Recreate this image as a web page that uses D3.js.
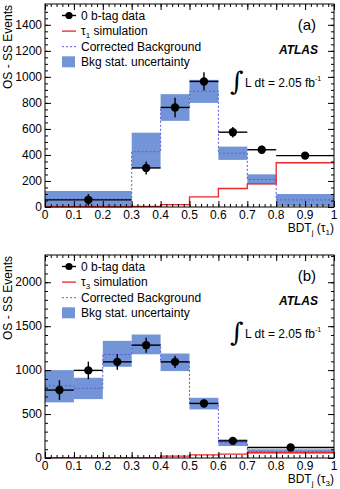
<!DOCTYPE html>
<html>
<head>
<meta charset="utf-8">
<script src="https://cdn.jsdelivr.net/npm/d3@7"></script>
<style>
  body { margin: 0; background: #fff; }
  svg { display: block; font-family: "Liberation Sans", Arial, sans-serif; }
</style>
</head>
<body>
<div class="viz"></div>
<script>
// panel (a): tau1
const edgesA = [0, 0.3, 0.4, 0.5, 0.6, 0.7, 0.8, 1.0];
const dataA = [55, 300, 765, 965, 575, 440, 395];
const dataErrA = [45, 50, 75, 70, 40, 30, 25];
const bkgA = [60, 425, 765, 890, 413, 212, 55];
const bkgLoA = [0, 300, 662, 800, 362, 174, 8];
const bkgHiA = [123, 571, 867, 977, 464, 251, 100];
const sigA = [2, 5, 18, 78, 142, 177, 340];

// panel (b): tau3
const edgesB = [0, 0.1, 0.2, 0.3, 0.4, 0.5, 0.6, 0.7, 1.0];
const dataB = [773, 997, 1094, 1284, 1094, 621, 195, 120];
const dataErrB = [112, 100, 90, 85, 70, 42, 22, 18];
const bkgB = [822, 792, 1178, 1290, 1090, 620, 175, 72];
const bkgLoB = [633, 670, 1038, 1180, 989, 553, 136, 53];
const bkgHiB = [1000, 913, 1333, 1405, 1189, 685, 212, 99];
const sigB = [4, 4, 4, 5, 22, 35, 45, 60];

const xTicks = [0, 0.1, 0.2, 0.3, 0.4, 0.5, 0.6, 0.7, 0.8, 0.9, 1];

const W = 340, H = 489;
const svg = d3.select('.viz').append('svg').attr('width', W).attr('height', H);

function panel(o) {
    const g = svg.append('g');
    const x = d3.scaleLinear().domain([0, 1]).range([45, 334]);
    const y = d3.scaleLinear().domain([0, o.ymax]).range([o.bottom, o.top]);
    const n = o.data.length;
    const bins = d3.range(n).map(i => ({
        x0: o.edges[i], x1: o.edges[i + 1], v: o.data[i], e: o.err[i],
        b: o.bkg[i], lo: o.lo[i], hi: o.hi[i], s: o.sig[i]
    }));

    // background uncertainty band
    g.selectAll('rect.band').data(bins).enter().append('rect')
        .attr('x', d => x(d.x0)).attr('width', d => x(d.x1) - x(d.x0))
        .attr('y', d => y(d.hi)).attr('height', d => y(d.lo) - y(d.hi))
        .attr('fill', '#7394d6');

    // step line helper
    const step = (key) => {
        const pts = [];
        bins.forEach(d => { pts.push([x(d.x0), y(d[key])]); pts.push([x(d.x1), y(d[key])]); });
        return d3.line()(pts);
    };
    g.append('path').attr('d', step('b')).attr('fill', 'none')
        .attr('stroke', '#5b5be0').attr('stroke-width', 1).attr('stroke-dasharray', '2,2');
    g.append('path').attr('d', step('s')).attr('fill', 'none')
        .attr('stroke', '#e8262b').attr('stroke-width', 1.3);

    // data
    g.selectAll('line.hx').data(bins).enter().append('line')
        .attr('x1', d => x(d.x0)).attr('x2', d => x(d.x1))
        .attr('y1', d => y(d.v)).attr('y2', d => y(d.v))
        .attr('stroke', '#000').attr('stroke-width', 1.4);
    g.selectAll('line.ey').data(bins).enter().append('line')
        .attr('x1', d => x((d.x0 + d.x1) / 2)).attr('x2', d => x((d.x0 + d.x1) / 2))
        .attr('y1', d => y(d.v - d.e)).attr('y2', d => y(d.v + d.e))
        .attr('stroke', '#000').attr('stroke-width', 1.4);
    g.selectAll('circle').data(bins).enter().append('circle')
        .attr('cx', d => x((d.x0 + d.x1) / 2)).attr('cy', d => y(d.v))
        .attr('r', 4.2).attr('fill', '#000');

    // frame
    g.append('rect').attr('x', 45).attr('y', o.top).attr('width', 289).attr('height', o.bottom - o.top)
        .attr('fill', 'none').attr('stroke', '#000').attr('stroke-width', 1);

    // axes with minor ticks
    const minorY = d3.range(0, o.ymax, o.ymin);
    const minorX = d3.range(0, 1.0001, 0.02);
    const addTicks = (axis) => axis.selectAll('.domain').remove();
    g.append('g').attr('transform', `translate(45,0)`)
        .call(d3.axisRight(y).tickValues(minorY).tickSize(3).tickFormat('')).call(addTicks);
    g.append('g').attr('transform', `translate(45,0)`)
        .call(d3.axisRight(y).tickValues(o.yTicks).tickSize(6).tickFormat('')).call(addTicks);
    g.append('g').attr('transform', `translate(334,0)`)
        .call(d3.axisLeft(y).tickValues(minorY).tickSize(3).tickFormat('')).call(addTicks);
    g.append('g').attr('transform', `translate(334,0)`)
        .call(d3.axisLeft(y).tickValues(o.yTicks).tickSize(6).tickFormat('')).call(addTicks);
    g.append('g').attr('transform', `translate(0,${o.bottom})`)
        .call(d3.axisTop(x).tickValues(minorX).tickSize(3).tickFormat('')).call(addTicks);
    g.append('g').attr('transform', `translate(0,${o.bottom})`)
        .call(d3.axisTop(x).tickValues(xTicks).tickSize(6).tickFormat('')).call(addTicks);
    g.append('g').attr('transform', `translate(0,${o.top})`)
        .call(d3.axisBottom(x).tickValues(minorX).tickSize(3).tickFormat('')).call(addTicks);
    g.append('g').attr('transform', `translate(0,${o.top})`)
        .call(d3.axisBottom(x).tickValues(xTicks).tickSize(6).tickFormat('')).call(addTicks);
    g.selectAll('.tick line').attr('stroke', '#000');

    // tick labels
    g.selectAll('text.yl').data(o.yTicks).enter().append('text')
        .attr('x', 42).attr('y', d => y(d) + 4).attr('text-anchor', 'end')
        .attr('font-size', 12).text(d => d);
    g.selectAll('text.xl').data(xTicks).enter().append('text')
        .attr('x', d => x(d)).attr('y', o.bottom + 12).attr('text-anchor', 'middle')
        .attr('font-size', 12).text(d => d);

    // axis titles
    g.append('text').attr('transform', `translate(12,${o.top + 1}) rotate(-90)`)
        .attr('text-anchor', 'end').attr('font-size', 12).text('OS - SS Events');
    const xt = g.append('text').attr('x', 334).attr('y', o.bottom + 25)
        .attr('text-anchor', 'end').attr('font-size', 12);
    xt.append('tspan').text('BDT');
    xt.append('tspan').attr('font-size', 8).attr('dy', 3).text('j');
    xt.append('tspan').attr('dy', -3).text(' (τ');
    xt.append('tspan').attr('font-size', 8).attr('dy', 3).text(o.tau);
    xt.append('tspan').attr('dy', -3).text(')');

    // legend
    const lx = 81, ly = o.top + 15.5, dy = 15.6;
    const lg = g.append('g');
    lg.append('line').attr('x1', 62).attr('x2', 76).attr('y1', ly - 4).attr('y2', ly - 4)
        .attr('stroke', '#000').attr('stroke-width', 1.4);
    lg.append('circle').attr('cx', 69).attr('cy', ly - 4).attr('r', 3.6).attr('fill', '#000');
    lg.append('text').attr('x', lx).attr('y', ly).attr('font-size', 12).text('0 b-tag data');
    lg.append('line').attr('x1', 62).attr('x2', 76).attr('y1', ly + dy - 4).attr('y2', ly + dy - 4)
        .attr('stroke', '#e8262b').attr('stroke-width', 1.3);
    const st = lg.append('text').attr('x', lx).attr('y', ly + dy).attr('font-size', 12);
    st.append('tspan').text('τ');
    st.append('tspan').attr('font-size', 8).attr('dy', 3).text(o.tau);
    st.append('tspan').attr('dy', -3).text(' simulation');
    lg.append('line').attr('x1', 62).attr('x2', 76).attr('y1', ly + 2 * dy - 4).attr('y2', ly + 2 * dy - 4)
        .attr('stroke', '#5b5be0').attr('stroke-dasharray', '2,2');
    lg.append('text').attr('x', lx).attr('y', ly + 2 * dy).attr('font-size', 12).text('Corrected Background');
    lg.append('rect').attr('x', 62).attr('y', ly + 3 * dy - 10).attr('width', 13).attr('height', 11)
        .attr('fill', '#7394d6');
    lg.append('text').attr('x', lx).attr('y', ly + 3 * dy).attr('font-size', 12).text('Bkg stat. uncertainty');

    // labels
    g.append('text').attr('x', 316).attr('y', o.top + 26).attr('text-anchor', 'end')
        .attr('font-size', 15).text(o.label);
    g.append('text').attr('x', 318).attr('y', o.top + 50).attr('text-anchor', 'end')
        .attr('font-size', 12).attr('font-weight', 'bold').attr('font-style', 'italic').text('ATLAS');
    g.append('text').attr('x', 230).attr('y', o.top + 86).attr('font-size', 26)
        .attr('font-family', 'DejaVu Serif').text('∫');
    const lt = g.append('text').attr('x', 245).attr('y', o.top + 83).attr('font-size', 12);
    lt.append('tspan').text('L dt = 2.05 fb');
    lt.append('tspan').attr('font-size', 7).attr('dy', -6).text('-1');
}

panel({
    edges: edgesA, data: dataA, err: dataErrA, bkg: bkgA, lo: bkgLoA, hi: bkgHiA, sig: sigA,
    top: 4, bottom: 207, ymax: 1560, yTicks: [0, 200, 400, 600, 800, 1000, 1200, 1400], ymin: 50,
    tau: '1', label: '(a)'
});
panel({
    edges: edgesB, data: dataB, err: dataErrB, bkg: bkgB, lo: bkgLoB, hi: bkgHiB, sig: sigB,
    top: 255, bottom: 458, ymax: 2310, yTicks: [0, 500, 1000, 1500, 2000], ymin: 100,
    tau: '3', label: '(b)'
});
</script>
</body>
</html>
